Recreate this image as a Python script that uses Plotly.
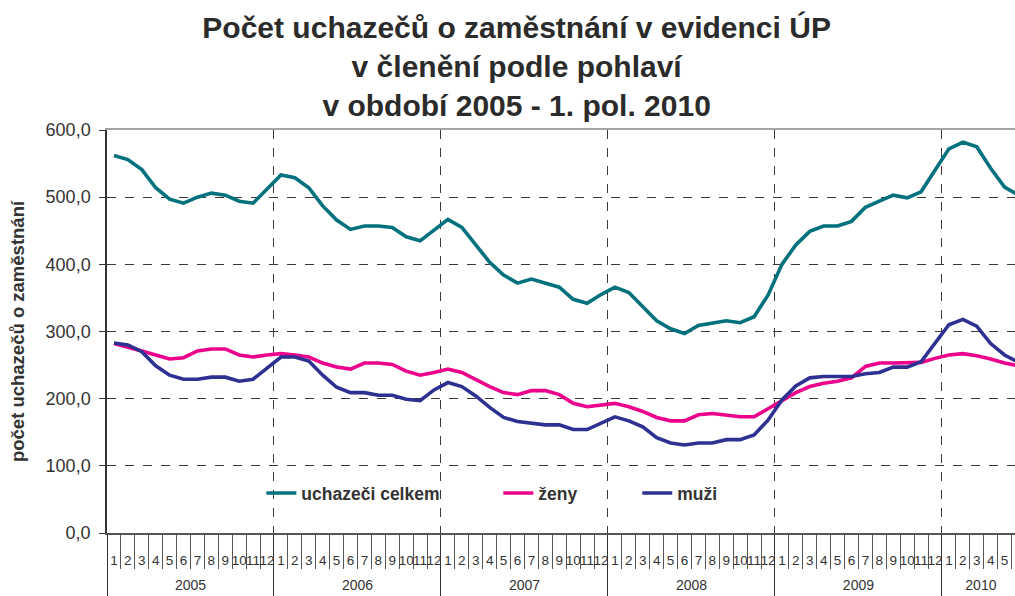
import plotly.graph_objects as go

# ---- data (thousands of job seekers), monthly Jan 2005 .. Jun 2010 ----
years = ["2005", "2006", "2007", "2008", "2009", "2010"]
months_per_year = [12, 12, 12, 12, 12, 6]
month_labels = [str(m) for y, n in zip(years, months_per_year) for m in range(1, n + 1)]

celkem = [562, 556, 541, 514, 497, 491, 500, 506, 503, 494, 491, 512,
          533, 529, 514, 487, 466, 452, 457, 457, 455, 441, 435, 451,
          467, 455, 430, 403, 384, 372, 378, 372, 366, 348, 342, 355,
          366, 358, 337, 316, 304, 297, 309, 313, 316, 313, 322, 354,
          400, 429, 449, 457, 457, 464, 485, 494, 503, 499, 508, 540,
          572, 582, 575, 543, 515, 503]
zeny = [282, 277, 271, 265, 259, 261, 271, 274, 274, 265, 262, 265,
        267, 265, 262, 253, 247, 244, 253, 253, 251, 241, 235, 239,
        244, 239, 228, 218, 209, 206, 212, 212, 206, 193, 188, 191,
        193, 188, 181, 172, 167, 167, 176, 178, 176, 173, 173, 185,
        198, 209, 218, 223, 226, 231, 248, 253, 253, 253, 254, 260,
        265, 267, 264, 259, 253, 249]
muzi = [283, 280, 270, 249, 235, 229, 229, 232, 232, 226, 229, 245,
        262, 262, 256, 235, 217, 209, 209, 205, 205, 199, 197, 213,
        224, 218, 204, 187, 172, 166, 163, 161, 161, 154, 154, 164,
        173, 167, 158, 142, 134, 131, 134, 134, 139, 139, 146, 168,
        198, 219, 231, 233, 233, 233, 237, 239, 247, 247, 255, 282,
        310, 318, 308, 282, 265, 254]

series_names = ["uchazeči celkem", "ženy", "muži"]
series_values = [celkem, zeny, muzi]
series_colors = ["#00717D", "#EC008C", "#2E3192"]
legend_ids = ["legend", "legend2", "legend3"]

# positions derived from data
idx = list(range(len(month_labels)))
year_starts = []
s = 0
for n in months_per_year:
    year_starts.append(s)
    s += n
year_bounds = [b - 0.5 for b in year_starts]
year_centers = [b + (n - 1) / 2 for b, n in zip(year_starts, months_per_year)]
year_centers[-1] = year_starts[-1] + 2.3  # centred on the visible part
month_bounds = [i + 0.5 for i in idx]

xr = [-0.5, 64.75]

fig = go.Figure()
for name, vals, col, lg in zip(series_names, series_values, series_colors, legend_ids):
    fig.add_trace(go.Scatter(x=idx, y=vals, mode="lines", name=name,
                             line=dict(color=col, width=3.6), legend=lg,
                             showlegend=True, hoverinfo="skip"))

# invisible carriers so that the helper axes (top border / year grid, year labels) are drawn
fig.add_trace(go.Scatter(x=year_bounds, y=[0] * len(year_bounds), xaxis="x2",
                         mode="markers", marker=dict(opacity=0), showlegend=False,
                         hoverinfo="skip"))
fig.add_trace(go.Scatter(x=year_centers, y=[0] * len(year_centers), xaxis="x3",
                         mode="markers", marker=dict(opacity=0), showlegend=False,
                         hoverinfo="skip"))

FONT = "Liberation Sans, Arial, sans-serif"
DARK = "#333333"

fig.update_layout(
    width=1015, height=596,
    margin=dict(l=107, r=0, t=130, b=63, autoexpand=False),
    paper_bgcolor="white", plot_bgcolor="white",
    separators=", ",
    showlegend=True,
    font=dict(family=FONT, color=DARK),
    title=dict(
        text="Počet uchazečů o zaměstnání v evidenci ÚP<br>v členění podle pohlaví<br>v období 2005 - 1. pol. 2010",
        font=dict(family=FONT, size=30, color="#2B2B2B", weight="bold"),
        x=0.509, xanchor="center", y=1 - 38 / 596, yanchor="top", yref="container",
    ),
    xaxis=dict(
        range=xr, showgrid=False, zeroline=False, automargin=False,
        showline=True, linecolor="#555555", linewidth=1.5,
        tickmode="array", tickvals=idx, ticktext=month_labels,
        ticks="", ticklabelstandoff=14, tickangle=0,
        tickfont=dict(family=FONT, size=13.5, color=DARK),
        minor=dict(tickmode="array", tickvals=month_bounds, ticks="outside",
                   ticklen=34, tickwidth=1, tickcolor="#555555"),
    ),
    xaxis2=dict(
        range=xr, overlaying="x", side="top", anchor="y", automargin=False,
        showline=True, linecolor="#A8A2A2", linewidth=2,
        showticklabels=False, ticks="", zeroline=False,
        tickmode="array", tickvals=year_bounds, showgrid=True,
        gridcolor="#3A3A3A", griddash="dash", gridwidth=1,
    ),
    xaxis3=dict(
        range=xr, overlaying="x", side="bottom", anchor="y", automargin=False,
        showline=False, zeroline=False, showgrid=False,
        tickmode="array", tickvals=year_centers, ticktext=years,
        ticks="", ticklabelstandoff=42, tickangle=0,
        tickfont=dict(family=FONT, size=14, color=DARK),
        minor=dict(tickmode="array", tickvals=year_bounds, ticks="outside",
                   ticklen=63, tickwidth=1.2, tickcolor="#333333"),
    ),
    yaxis=dict(
        range=[0, 600], dtick=100, tick0=0, tickformat=".1f", automargin=False,
        showline=True, linecolor="#333333", linewidth=1.5,
        ticks="outside", ticklen=6, tickcolor="#333333", tickwidth=1,
        ticklabelstandoff=5,
        tickfont=dict(family=FONT, size=18, color=DARK),
        showgrid=True, gridcolor="#3A3A3A", griddash="dash", gridwidth=1,
        zeroline=False,
        title=dict(text="počet uchazečů o zaměstnání", standoff=16,
                   font=dict(family=FONT, size=18.5, color=DARK, weight="bold")),
    ),
)

leg_common = dict(orientation="h", yanchor="middle", y=0.099, xanchor="left",
                  bgcolor="rgba(0,0,0,0)", borderwidth=0,
                  font=dict(family=FONT, size=17.5, color=DARK, weight="bold"))
fig.update_layout(
    legend=dict(x=0.170, **leg_common),
    legend2=dict(x=0.431, **leg_common),
    legend3=dict(x=0.584, **leg_common),
)

fig.write_html(
    "out.html",
    config={"displayModeBar": False},
    post_script="document.body.style.margin='0';document.body.style.overflow='hidden';",
)
